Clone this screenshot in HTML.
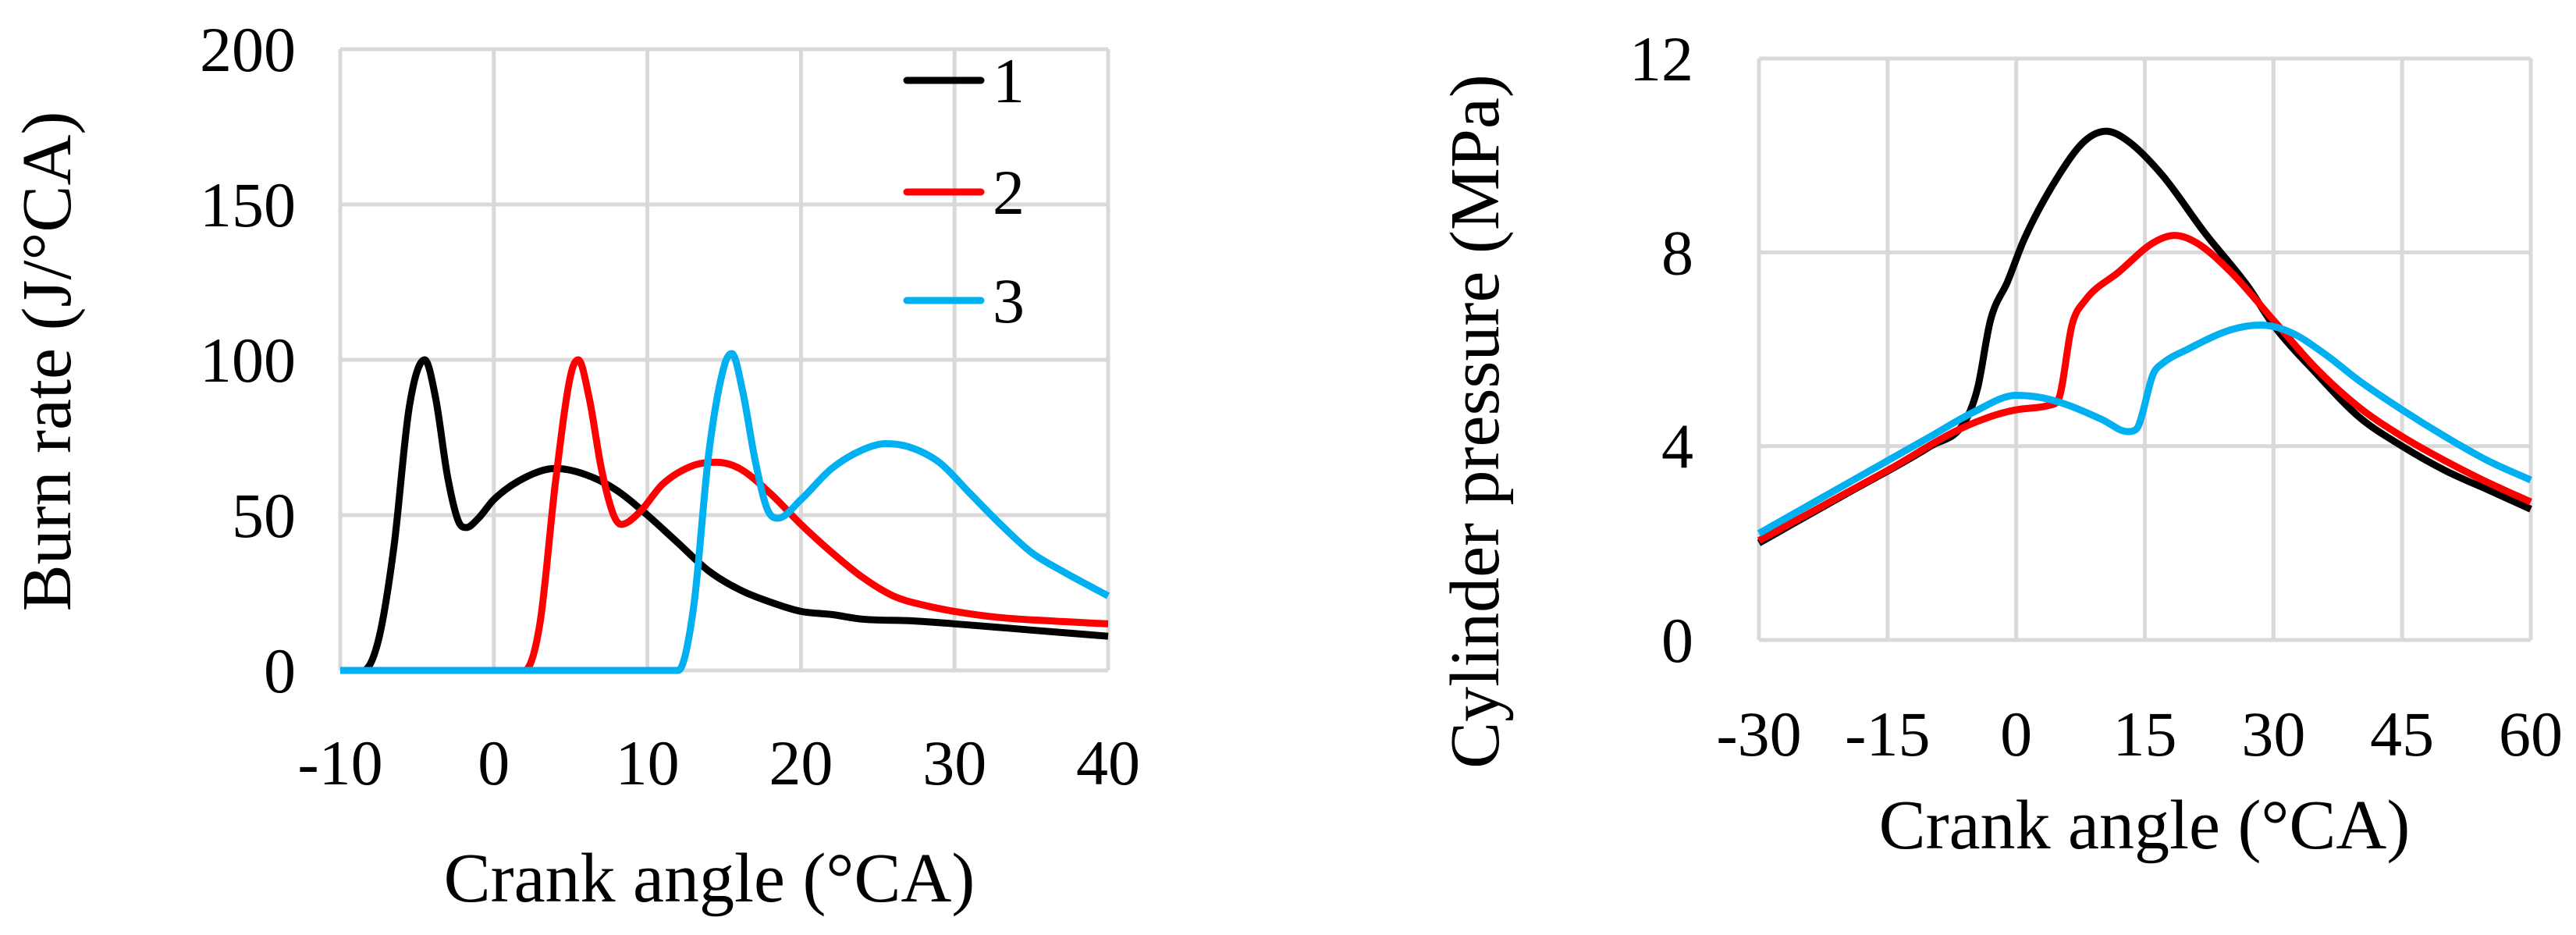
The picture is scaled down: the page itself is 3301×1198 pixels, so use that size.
<!DOCTYPE html>
<html><head><meta charset="utf-8"><style>
html,body{margin:0;padding:0;background:#fff;}
svg{display:block;font-family:"Liberation Serif",serif;}
</style></head><body>
<svg id="chart" width="3301" height="1198" viewBox="0 0 3301 1198" xmlns="http://www.w3.org/2000/svg"></svg>
<script>
// Left chart data (burn rate)
const burnTicksX = [-10, 0, 10, 20, 30, 40];
const burnTicksY = [0, 50, 100, 150, 200];
const burn1X = [-10,-8.5,-7.5,-6.5,-5.5,-4.5,-3.8,-3,-2.3,-1.8,-1,0,2,4,6,8,10,12,14,16,18,20,22,24,27,30,35,40];
const burn1Y = [0,0,10,40,85,100,88,62,48,46,49,55,62,65,63,58,50,41,32,26,22,19,18,16.5,16,15,13,11];
const burn2X = [-10,2,3,4,5,5.5,6.2,7,7.8,8.3,9.5,11,13,14.5,16,18,20,22,24,26,28,30,33,36,40];
const burn2Y = [0,0,15,60,95,100,88,65,50,47,51,60,66,67,65,57,47,38,30,24,21,19,17,16,15];
const burn3X = [-10,12,13,14,15,15.5,16.2,17,17.8,18.5,20,22,24,25.5,27,29,31,33,35,37,40];
const burn3Y = [0,0,20,70,98,102,90,68,52,49,55,65,71,73,72,67,57,47,38,32,24];
const legendLabels = ["1", "2", "3"];
// Right chart data (cylinder pressure)
const presTicksX = [-30, -15, 0, 15, 30, 45, 60];
const presTicksY = [0, 4, 8, 12];
const pres1X = [-30,-20,-10,-6,-4.5,-3,-1,1,5,8,10.5,13,17,22,27,30,35,40,45,50,55,60];
const pres1Y = [2.0,3.0,4.0,4.5,5.2,6.6,7.4,8.3,9.6,10.3,10.5,10.3,9.6,8.4,7.3,6.5,5.5,4.6,4.0,3.5,3.1,2.7];
const pres2X = [-30,-15,-6,0,4,5,6.5,8,12,16,18.5,21,25,30,35,40,45,50,55,60];
const pres2Y = [2.05,3.5,4.4,4.75,4.85,5.0,6.5,7.0,7.6,8.2,8.35,8.2,7.6,6.6,5.6,4.8,4.2,3.7,3.25,2.85];
const pres3X = [-30,-20,-10,-5,0,3,6,10,13,14,16,17,20,25,28.5,32,36,40,45,50,55,60];
const pres3Y = [2.2,3.2,4.2,4.7,5.05,5.0,4.85,4.55,4.3,4.35,5.5,5.7,6.0,6.4,6.5,6.35,5.9,5.35,4.75,4.2,3.7,3.3];

const NS = "http://www.w3.org/2000/svg";
const svg = document.getElementById("chart");
function mk(tag, attrs, parent){ const e=document.createElementNS(NS,tag); for(const k in attrs) e.setAttribute(k,attrs[k]); (parent||svg).appendChild(e); return e; }
function lin(d0,d1,r0,r1){ return v=>r0+(v-d0)*(r1-r0)/(d1-d0); }
function smoothPath(xs,ys,sx,sy){
  const X=xs.map(sx), Y=ys.map(sy), n=X.length;
  const d=[], m=new Array(n);
  for(let i=0;i<n-1;i++) d.push((Y[i+1]-Y[i])/(X[i+1]-X[i]));
  m[0]=d[0]; m[n-1]=d[n-2];
  for(let i=1;i<n-1;i++){ m[i]=(d[i-1]*d[i]<=0)?0:(d[i-1]+d[i])/2; }
  for(let i=0;i<n-1;i++){
    if(d[i]===0){m[i]=0;m[i+1]=0;continue;}
    const a=m[i]/d[i], b=m[i+1]/d[i], s=a*a+b*b;
    if(s>9){const t=3/Math.sqrt(s); m[i]=t*a*d[i]; m[i+1]=t*b*d[i];}
  }
  let p="M"+X[0].toFixed(1)+","+Y[0].toFixed(1);
  for(let i=0;i<n-1;i++){
    const h=(X[i+1]-X[i])/3;
    p+=` C${(X[i]+h).toFixed(1)},${(Y[i]+m[i]*h).toFixed(1)} ${(X[i+1]-h).toFixed(1)},${(Y[i+1]-m[i+1]*h).toFixed(1)} ${X[i+1].toFixed(1)},${Y[i+1].toFixed(1)}`;
  }
  return p;
}
const colors=["#000000","#ff0000","#00b0f0"];

// ---- Left chart
const lx=lin(-10,40,436,1420), ly=lin(0,200,859,63);
const gL=mk("g",{});


burnTicksX.forEach(t=>{
  const l=mk("line",{x1:lx(t),x2:lx(t),y1:ly(200),y2:ly(0),stroke:"#d9d9d9","stroke-width":5},gL);
  
  
  const tx=mk("text",{x:lx(t),y:1005,"font-size":82,"text-anchor":"middle",fill:"#000"},gL);
  tx.textContent=t;
  
  
});
burnTicksY.forEach(t=>{
  const l=mk("line",{x1:lx(-10),x2:lx(40),y1:ly(t),y2:ly(t),stroke:"#d9d9d9","stroke-width":5},gL);
  
  
  const tx=mk("text",{x:379,y:ly(t)+28,"font-size":82,"text-anchor":"end",fill:"#000"},gL);
  tx.textContent=t;
  
  
});
[[burn1X,burn1Y],[burn2X,burn2Y],[burn3X,burn3Y]].forEach((s,i)=>{
  const p=mk("path",{d:smoothPath(s[0],s[1],lx,ly),fill:"none",stroke:colors[i],"stroke-width":9,"stroke-linejoin":"round"},gL);
  
  
});
legendLabels.forEach((lab,i)=>{
  const y=[103,246,385][i];
  const g=mk("g",{},gL);
  
  
  mk("line",{x1:1162,x2:1257,y1:y,y2:y,stroke:colors[i],"stroke-width":9,"stroke-linecap":"round"},g);
  const t=mk("text",{x:1272,y:y+28,"font-size":82,fill:"#000"},g);
  t.textContent=lab;
});
const ltx=mk("text",{x:909,y:1155,"font-size":90,"text-anchor":"middle",fill:"#000"},gL);
ltx.textContent="Crank angle (°CA)";


const lty=mk("text",{x:0,y:0,"font-size":90,"text-anchor":"middle",fill:"#000",transform:"translate(90,463) rotate(-90)"},gL);
lty.textContent="Burn rate (J/°CA)";



// ---- Right chart
const rx=lin(-30,60,2254,3243), ry=lin(0,12,820,75);
const gR=mk("g",{});


presTicksX.forEach(t=>{
  const l=mk("line",{x1:rx(t),x2:rx(t),y1:ry(12),y2:ry(0),stroke:"#d9d9d9","stroke-width":5},gR);
  
  
  const tx=mk("text",{x:rx(t),y:968,"font-size":82,"text-anchor":"middle",fill:"#000"},gR);
  tx.textContent=t;
  
  
});
presTicksY.forEach(t=>{
  const l=mk("line",{x1:rx(-30),x2:rx(60),y1:ry(t),y2:ry(t),stroke:"#d9d9d9","stroke-width":5},gR);
  
  
  const tx=mk("text",{x:2170,y:ry(t)+28,"font-size":82,"text-anchor":"end",fill:"#000"},gR);
  tx.textContent=t;
  
  
});
[[pres1X,pres1Y],[pres2X,pres2Y],[pres3X,pres3Y]].forEach((s,i)=>{
  const p=mk("path",{d:smoothPath(s[0],s[1],rx,ry),fill:"none",stroke:colors[i],"stroke-width":9,"stroke-linejoin":"round"},gR);
  
  
});
const rtx=mk("text",{x:2748,y:1087,"font-size":90,"text-anchor":"middle",fill:"#000"},gR);
rtx.textContent="Crank angle (°CA)";


const rty=mk("text",{x:0,y:0,"font-size":90,"text-anchor":"middle",fill:"#000",transform:"translate(1920,540) rotate(-90)"},gR);
rty.textContent="Cylinder pressure (MPa)";


</script>
</body></html>
